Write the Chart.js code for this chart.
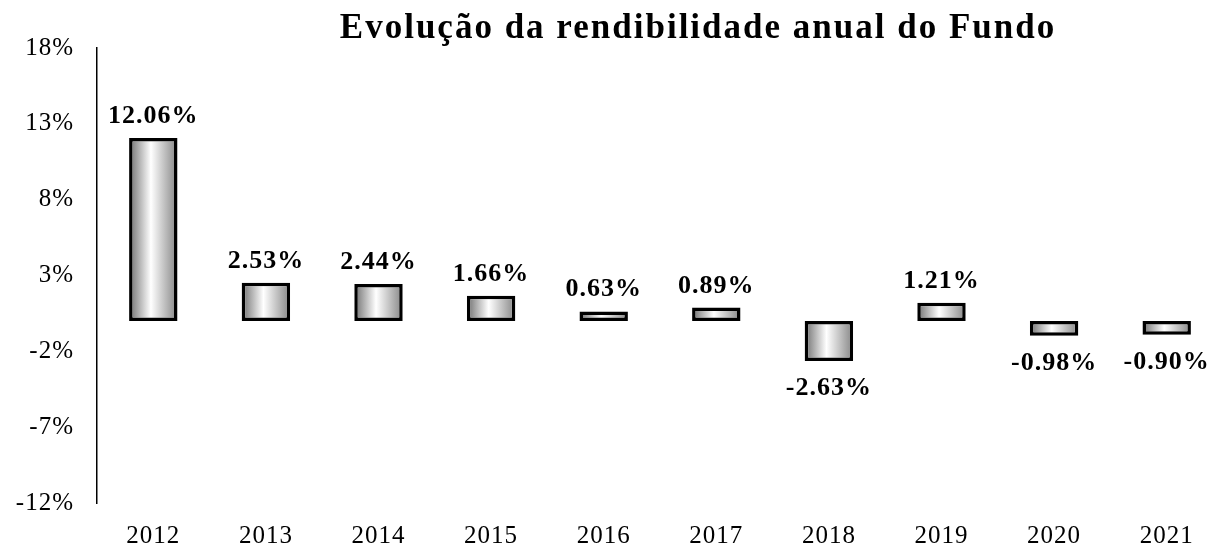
<!DOCTYPE html>
<html>
<head>
<meta charset="utf-8">
<script src="https://cdn.jsdelivr.net/npm/chart.js@4"></script>
<style>
  body { margin: 0; overflow: hidden; background: #fff; }
  #wrap { width: 1240px; height: 544px; }
</style>
</head>
<body>
<div id="wrap"><canvas id="fundChart"></canvas></div>
<script>
// data
const years = ['2012','2013','2014','2015','2016','2017','2018','2019','2020','2021'];
const returns = [12.06, 2.53, 2.44, 1.66, 0.63, 0.89, -2.63, 1.21, -0.98, -0.90];
const yTicks = [-12, -7, -2, 3, 8, 13, 18];
const chartTitle = 'Evolução da rendibilidade anual do Fundo';

const serif = "'Liberation Serif', 'Times New Roman', serif";
const barPct = 0.43;

// grey -> white -> grey across each bar, like the excel fill
function barFill(ctx) {
  const chart = ctx.chart;
  const x = chart.scales.x;
  if (!x || ctx.dataIndex === undefined) return '#aaaaaa';
  const cx = x.getPixelForValue(ctx.dataIndex);
  const w = x.width / years.length * barPct;
  if (!isFinite(cx) || !isFinite(w) || w <= 0) return '#aaaaaa';
  const g = chart.ctx.createLinearGradient(cx - w / 2, 0, cx + w / 2, 0);
  g.addColorStop(0, '#6e6e6e');
  g.addColorStop(0.45, '#ffffff');
  g.addColorStop(1, '#858585');
  return g;
}

// value labels above / below the bars + the title
const labelPlugin = {
  id: 'labels',
  beforeDraw(chart) {
    chart.ctx.letterSpacing = '1px';
  },
  afterDatasetsDraw(chart) {
    const ctx = chart.ctx;
    const meta = chart.getDatasetMeta(0);
    ctx.save();
    ctx.font = 'bold 26px ' + serif;
    ctx.letterSpacing = '1px';
    ctx.fillStyle = '#000';
    ctx.textAlign = 'center';
    ctx.textBaseline = 'alphabetic';
    meta.data.forEach((bar, i) => {
      const v = returns[i];
      const txt = v.toFixed(2) + '%';
      if (v >= 0) ctx.fillText(txt, bar.x, bar.y - 15);
      else ctx.fillText(txt, bar.x, bar.y + 34);
    });
    ctx.restore();
  },
  afterDraw(chart) {
    const ctx = chart.ctx;
    ctx.save();
    ctx.font = 'bold 35px ' + serif;
    ctx.letterSpacing = '2px';
    ctx.fillStyle = '#000';
    ctx.textAlign = 'center';
    ctx.textBaseline = 'alphabetic';
    ctx.fillText(chartTitle, 698, 38);
    ctx.restore();
  }
};

new Chart('fundChart', {
  type: 'bar',
  data: {
    labels: years,
    datasets: [{
      data: returns,
      backgroundColor: barFill,
      borderColor: '#000',
      borderWidth: 3.5,
      borderSkipped: false,
      barPercentage: barPct,
      categoryPercentage: 1
    }]
  },
  options: {
    responsive: true,
    maintainAspectRatio: false,
    animation: false,
    layout: { padding: { top: 48, right: 17, left: 0, bottom: 0 } },
    plugins: {
      legend: { display: false },
      title: { display: false },
      tooltip: { enabled: false }
    },
    scales: {
      x: {
        grid: { display: false, drawTicks: false },
        border: { display: false },
        ticks: { color: '#000', font: { family: serif, size: 25 }, padding: 18, maxRotation: 0 },
        afterFit(scale) { scale.height = 41; }
      },
      y: {
        min: -12,
        max: 18,
        afterBuildTicks(axis) { axis.ticks = yTicks.map(v => ({ value: v })); },
        afterFit(scale) { scale.width = 97; },
        grid: {
          drawTicks: false,
          color: c => (c.tick && c.tick.value === 0 ? '#000' : 'rgba(0,0,0,0)'),
          lineWidth: 2
        },
        border: { display: true, color: '#000', width: 1.5 },
        ticks: {
          color: '#000',
          padding: 23,
          font: { family: serif, size: 25 },
          callback: v => v + '%'
        }
      }
    }
  },
  plugins: [labelPlugin]
});
</script>
</body>
</html>
